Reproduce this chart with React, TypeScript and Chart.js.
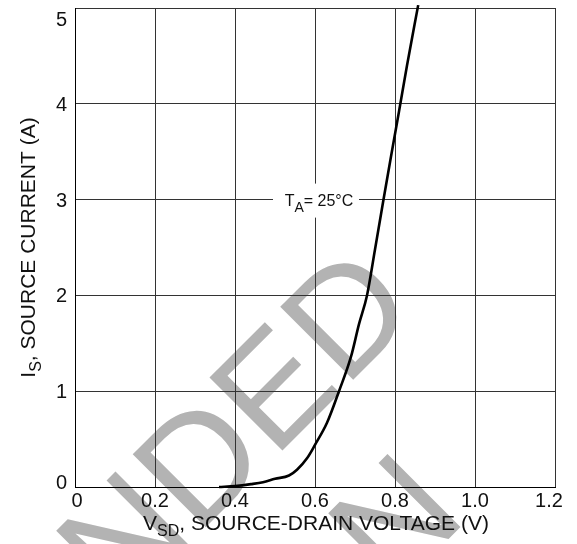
import React, { useEffect, useRef } from "react";
import { Chart, registerables } from "chart.js";

Chart.register(...registerables);

// Diode forward characteristic, TA = 25 °C
const vsdVolts = [0.36, 0.4, 0.44, 0.47, 0.5, 0.535, 0.555, 0.58, 0.6, 0.63, 0.66, 0.69, 0.71, 0.73, 0.75, 0.77, 0.79, 0.81, 0.83, 0.858];
const sourceCurrentAmps = [0, 0.01, 0.03, 0.05, 0.085, 0.12, 0.18, 0.3, 0.44, 0.67, 1.0, 1.36, 1.7, 2.0, 2.48, 2.97, 3.45, 3.92, 4.4, 5.03];

const xTickValues = [0, 0.2, 0.4, 0.6, 0.8, 1.0, 1.2];
const xTickLabels = ["0", "0.2", "0.4", "0.6", "0.8", "1.0", "1.2"];
const yTickValues = [0, 1, 2, 3, 4, 5];
const yTickLabels = ["0", "1", "2", "3", "4", "5"];

const tempNoteAt = [0.6, 3];
const tempNote = ["T", "A", "= 25°C"];
const xTitle = ["V", "SD", ", SOURCE-DRAIN VOLTAGE (V)"];
const yTitle = ["I", "S", ", SOURCE CURRENT (A)"];
const watermarkLines = ["NOT RECOMMENDED", "FOR NEW DESIGN"];

const FONT = "'Liberation Sans', Arial, Helvetica, sans-serif";
const INK = "#111";
const TICK_SIZE = 20;

type Parts = string[];

// Draws "main" + subscript + "rest", horizontally centred on x, baseline at y
function drawSubscripted(
  ctx: CanvasRenderingContext2D,
  parts: Parts,
  x: number,
  y: number,
  size: number,
  subSize: number,
  subDrop: number
) {
  const [main, sub, rest] = parts;
  ctx.font = `${size}px ${FONT}`;
  const wMain = ctx.measureText(main).width;
  const wRest = ctx.measureText(rest).width;
  ctx.font = `${subSize}px ${FONT}`;
  const wSub = ctx.measureText(sub).width;
  const total = wMain + wSub + wRest;
  let cx = x - total / 2;
  ctx.textAlign = "left";
  ctx.textBaseline = "alphabetic";
  ctx.font = `${size}px ${FONT}`;
  ctx.fillText(main, cx, y);
  cx += wMain;
  ctx.font = `${subSize}px ${FONT}`;
  ctx.fillText(sub, cx, y + subDrop);
  cx += wSub;
  ctx.font = `${size}px ${FONT}`;
  ctx.fillText(rest, cx, y);
  return total;
}

const decorations = {
  id: "decorations",
  beforeDraw(chart: Chart) {
    const ctx = chart.ctx;
    ctx.save();
    ctx.fillStyle = "#ffffff";
    ctx.fillRect(0, 0, chart.width, chart.height);

    // grey diagonal stamp behind the plot
    ctx.translate(421, 312);
    ctx.rotate(-Math.PI / 4);
    ctx.fillStyle = "#b3b3b3";
    ctx.font = `150px ${FONT}`;
    ctx.textAlign = "right";
    ctx.textBaseline = "alphabetic";
    ctx.fillText(watermarkLines[0], 0, 0);
    ctx.fillText(watermarkLines[1], -112, 180);
    ctx.restore();
  },
  afterDraw(chart: Chart) {
    const ctx = chart.ctx;
    const xs = chart.scales.x;
    const ys = chart.scales.y;
    const area = chart.chartArea;
    ctx.save();
    ctx.fillStyle = INK;

    // tick labels; the end labels are nudged inside the frame
    ctx.font = `${TICK_SIZE}px ${FONT}`;
    ctx.textBaseline = "alphabetic";
    ctx.textAlign = "right";
    yTickValues.forEach((v, i) => {
      const p = ys.getPixelForValue(v);
      const base = Math.min(Math.max(p + 7, area.top + 18), area.bottom + 1.5);
      ctx.fillText(yTickLabels[i], area.left - 8, base);
    });
    ctx.textAlign = "center";
    xTickValues.forEach((v, i) => {
      const p = xs.getPixelForValue(v);
      const cx = Math.min(Math.max(p, area.left + 2), area.right - 6);
      ctx.fillText(xTickLabels[i], cx, area.bottom + 19.5);
    });

    // temperature note on the 3 A grid line
    const nx = xs.getPixelForValue(tempNoteAt[0]);
    const ny = ys.getPixelForValue(tempNoteAt[1]);
    ctx.fillStyle = "#ffffff";
    ctx.fillRect(nx - 42, ny - 16, 86, 34);
    ctx.fillStyle = INK;
    drawSubscripted(ctx, tempNote, nx + 4, ny + 6.5, 16, 14, 6);

    // x axis title
    const midX = (area.left + area.right) / 2;
    drawSubscripted(ctx, xTitle, midX + 1, 530, 21, 16, 6);

    // y axis title, rotated
    const midY = (area.top + area.bottom) / 2;
    ctx.translate(35, midY);
    ctx.rotate(-Math.PI / 2);
    drawSubscripted(ctx, yTitle, 0, 0, 21, 16, 6);
    ctx.restore();
  },
};

export default function App() {
  const canvasRef = useRef<HTMLCanvasElement | null>(null);

  useEffect(() => {
    document.body.style.margin = "0";
    const canvas = canvasRef.current;
    if (!canvas) return;

    const chart = new Chart(canvas, {
      type: "scatter",
      data: {
        datasets: [
          {
            data: vsdVolts.map((v, i) => ({ x: v, y: sourceCurrentAmps[i] })),
            showLine: true,
            borderColor: "#000000",
            borderWidth: 2.6,
            pointRadius: 0,
            fill: false,
            cubicInterpolationMode: "monotone",
            clip: 6,
          },
        ],
      },
      options: {
        responsive: false,
        animation: false,
        devicePixelRatio: 1,
        layout: { padding: { left: 0, top: 8, right: 22, bottom: 0 } },
        plugins: {
          legend: { display: false },
          tooltip: { enabled: false },
        },
        scales: {
          x: {
            type: "linear",
            min: 0,
            max: 1.2,
            afterBuildTicks: (s: any) => {
              s.ticks = xTickValues.map((value) => ({ value }));
            },
            afterFit: (s: any) => {
              s.height = 57;
              s.paddingLeft = 0;
              s.paddingRight = 0;
            },
            grid: { color: "#333333", lineWidth: 1, drawTicks: false },
            border: { color: "#000000", width: 1 },
            ticks: { display: false },
          },
          y: {
            type: "linear",
            min: 0,
            max: 5,
            afterBuildTicks: (s: any) => {
              s.ticks = yTickValues.map((value) => ({ value }));
            },
            afterFit: (s: any) => {
              s.width = 75;
              s.paddingTop = 0;
              s.paddingBottom = 0;
            },
            grid: { color: "#333333", lineWidth: 1, drawTicks: false },
            border: { color: "#000000", width: 1 },
            ticks: { display: false },
          },
        },
      },
      plugins: [decorations],
    } as any);

    return () => chart.destroy();
  }, []);

  return (
    <div style={{ width: 577, height: 544 }}>
      <canvas ref={canvasRef} width={577} height={544} style={{ display: "block" }} />
    </div>
  );
}
